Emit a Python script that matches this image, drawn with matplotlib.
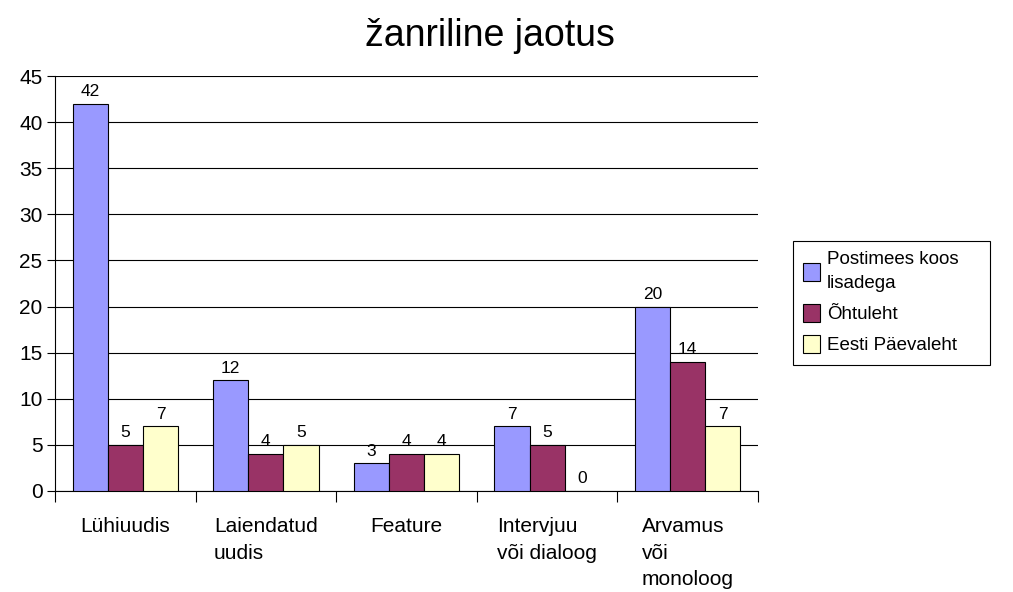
import matplotlib
matplotlib.use("Agg")
import matplotlib.pyplot as plt
import numpy as np

plt.rcParams['font.family'] = ['Liberation Sans', 'DejaVu Sans']

categories = ["Lühiuudis", "Laiendatud\nuudis", "Feature", "Intervjuu\nvõi dialoog", "Arvamus\nvõi\nmonoloog"]
series_names = ["Postimees koos\nlisadega", "Õhtuleht", "Eesti Päevaleht"]
postimees = [42, 12, 3, 7, 20]
ohtuleht = [5, 4, 4, 5, 14]
epl = [7, 5, 4, 0, 7]
colors = ["#9999FF", "#993366", "#FFFFCC"]

fig = plt.figure(figsize=(10.13, 5.92), dpi=100)
ax = fig.add_axes([55/1013, 1-491/592, (758-55)/1013, (491-76)/592])

x = np.arange(len(categories))
w = 0.25
for k, vals in enumerate([postimees, ohtuleht, epl]):
    bars = ax.bar(x + (k-1)*w, vals, w, color=colors[k], edgecolor='black', linewidth=0.8,
                  label=series_names[k], zorder=3)
    for b, v in zip(bars, vals):
        ax.text(b.get_x()+b.get_width()/2, v+0.5, str(v), ha='center', va='bottom', fontsize=12.5)

ax.set_xlim(-0.5, len(categories)-0.5)
ax.set_ylim(0, 45)
ax.set_yticks(np.arange(0, 46, 5))
ax.tick_params(axis='y', labelsize=15, length=6, width=0.8, pad=3)
ax.yaxis.grid(True, color='black', linewidth=0.8, zorder=0)
ax.set_axisbelow(True)

ax.set_xticks(np.arange(-0.5, len(categories), 1.0))
ax.set_xticklabels([])
ax.tick_params(axis='x', length=8, width=0.8, direction='out')
for i, c in enumerate(categories):
    ax.text(i, -2.8, c, ha='center', va='top', multialignment='left', fontsize=15, linespacing=1.52)

for s in ['top', 'right']:
    ax.spines[s].set_visible(False)
ax.spines['left'].set_linewidth(0.8)
ax.spines['bottom'].set_linewidth(0.8)

fig.text(490/1013, 1-36/592, "žanriline jaotus", ha='center', va='center', fontsize=27)

leg = ax.legend(loc='upper left', bbox_to_anchor=(793/1013, 1-368/592, 197/1013, 127/592),
                bbox_transform=fig.transFigure, mode='expand',
                fancybox=False, edgecolor='black', fontsize=13.5, borderaxespad=0,
                handlelength=0.9, handleheight=1.1, handletextpad=0.35, labelspacing=0.62,
                borderpad=0.55, framealpha=1)
leg.get_frame().set_linewidth(0.8)
for t in leg.get_texts():
    t.set_linespacing(1.55)

fig.savefig("out.png", dpi=100)
